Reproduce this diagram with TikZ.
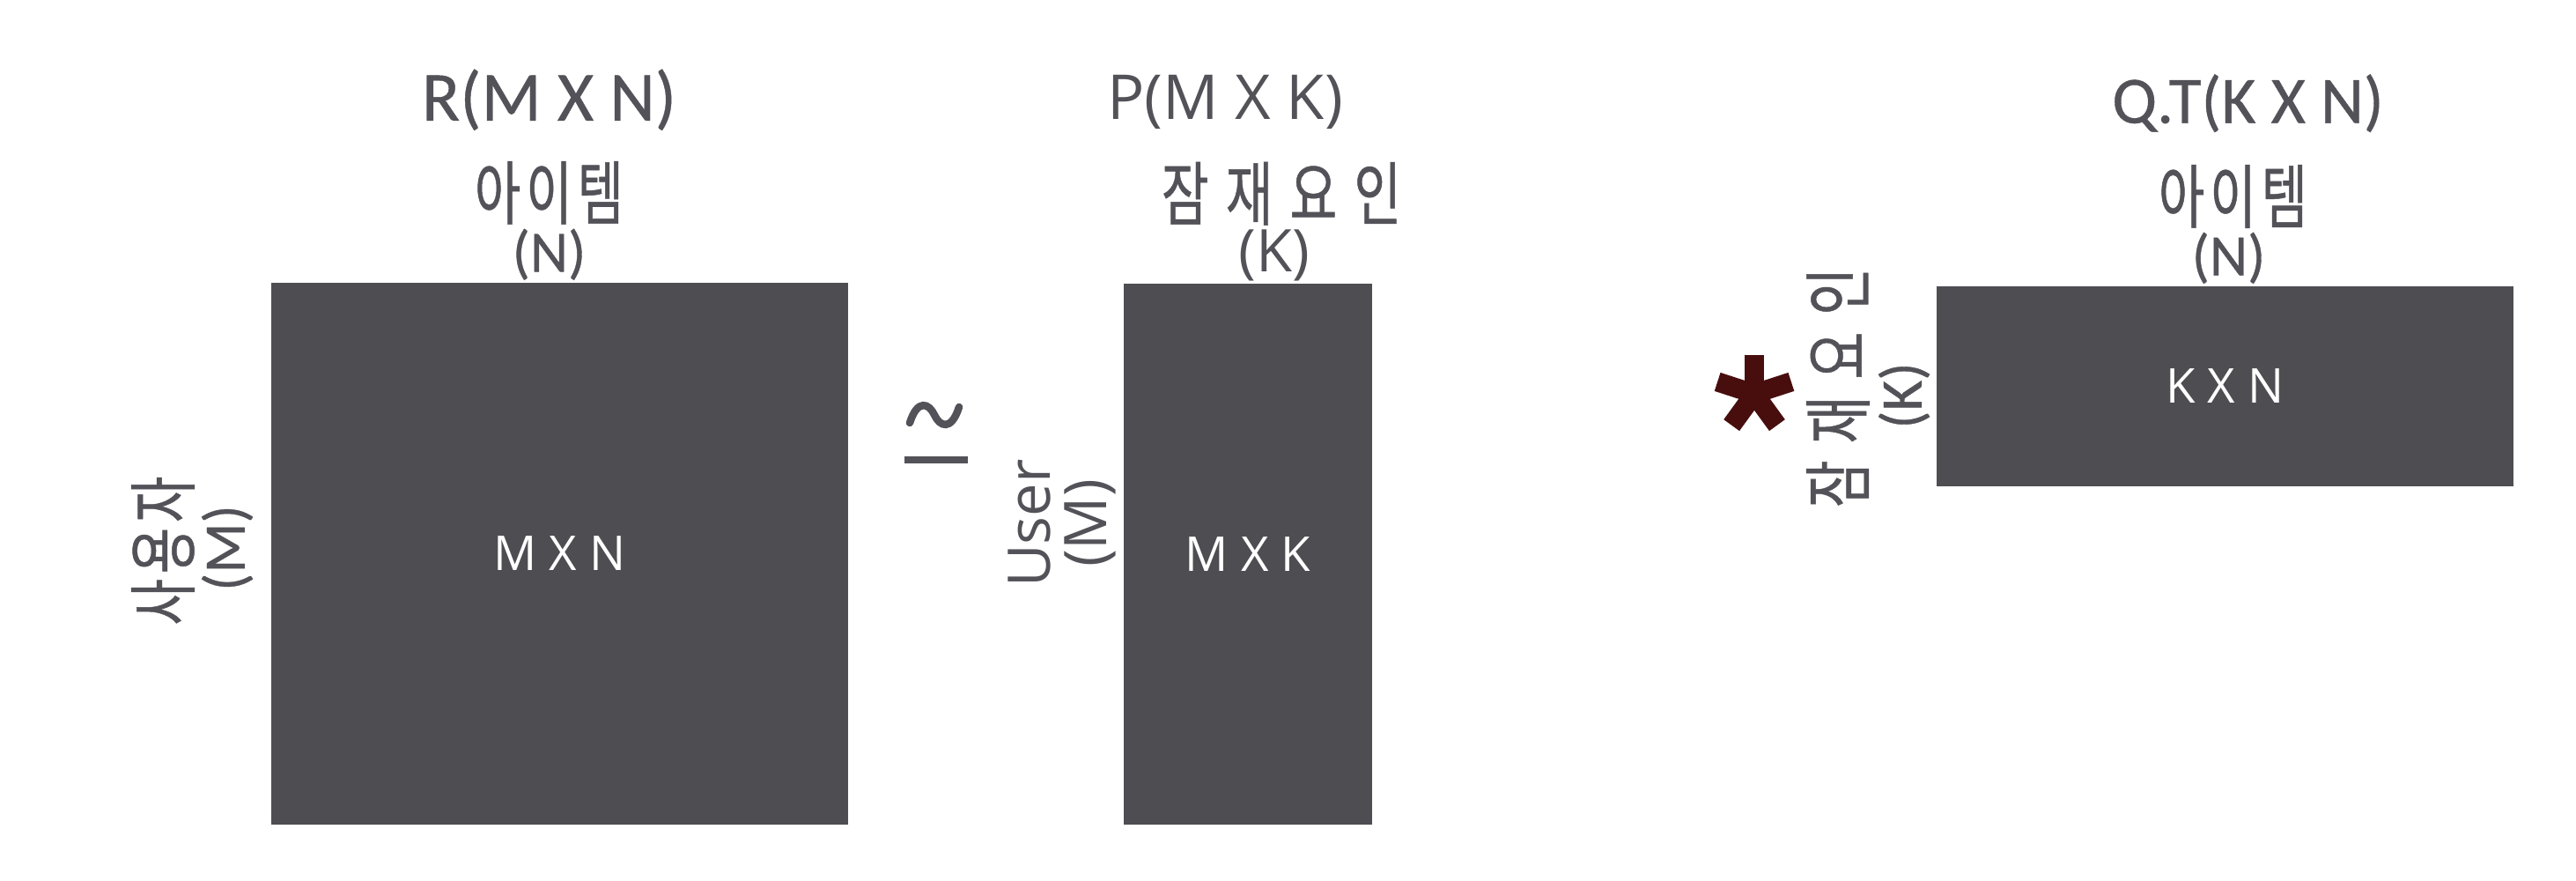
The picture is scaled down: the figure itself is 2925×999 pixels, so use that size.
\documentclass[tikz,border=0pt]{standalone}
\usepackage{fontspec}
\newfontfamily\carlito[FakeBold=0.5]{Carlito}
\newfontfamily\opensans{Open Sans}
\newfontfamily\kr[FakeStretch=0.72,LetterSpace=7.5,FakeBold=0.6]{Noto Sans CJK KR}
\newfontfamily\krwide[FakeStretch=0.74,LetterSpace=24,FakeBold=0.6]{Noto Sans CJK KR}
\usetikzlibrary{positioning}

\definecolor{boxgray}{RGB}{77,77,82}
\definecolor{labelgray}{RGB}{82,82,88}
\definecolor{stardark}{RGB}{72,14,14}

\tikzset{
  matbox/.style={fill=boxgray, text=white, inner sep=0pt,
    font=\opensans\fontsize{15.5}{18}\selectfont},
  dimlabel/.style={text=labelgray, inner sep=0pt,
    font=\carlito\fontsize{19}{22}\selectfont},
  krlabel/.style={text=labelgray, inner sep=0pt,
    font=\kr\fontsize{22.5}{26}\selectfont},
  krwidelabel/.style={text=labelgray, inner sep=0pt,
    font=\krwide\fontsize{22.5}{26}\selectfont},
  titlelabel/.style={text=labelgray, inner sep=0pt,
    font=\carlito\fontsize{22}{26}\selectfont},
  sanslabel/.style={text=labelgray, inner sep=0pt,
    font=\opensans\fontsize{19}{22}\selectfont}
}

\begin{document}
\begin{tikzpicture}[x=0.01cm,y=-0.01cm,line width=0.3mm]
  \useasboundingbox (0,0) rectangle (2925,999);

  % the three matrices
  \node[matbox, minimum width=6.55cm, minimum height=6.15cm] (R) at (635.5,628.5) {M X N};
  \node[matbox, minimum width=2.82cm, minimum height=6.14cm] (P) at (1417,629) {M X K};
  \node[matbox, minimum width=6.55cm, minimum height=2.27cm] (Q) at (2526.5,438.5) {K X N};

  % R
  \node[dimlabel] (Rn) [above=0pt of R.north, xshift=-0.12cm] {(N)};
  \node[krlabel] (Ritem) [above=0.02cm of Rn] {아이템};
  \node[titlelabel, font=\carlito\fontsize{22.7}{26}\selectfont] (Rname) [above=0.32cm of Ritem] {R(M X N)};
  \node[krlabel, rotate=90] (Ruser) at (185,625) {사용자};
  \node[dimlabel, rotate=90] (Rm) at (258,622) {(M)};

  % approx sign
  \coordinate (approx) at (1062,496);
  \draw[labelgray, line width=0.085cm, line cap=round]
    (1033,480) .. controls (1042,452) and (1055,458) .. (1061,471)
    .. controls (1067,484) and (1080,490) .. (1089,462);
  \draw[labelgray, line width=0.08cm] (1027,522) -- (1099,522);

  % P
  \node[sanslabel] (Pk) [above=0pt of P.north, xshift=0.3cm] {(K)};
  \node[krwidelabel] (Pfactor) [above=0.02cm of Pk, xshift=0.08cm] {잠재요인};
  \node[sanslabel, font=\opensans\fontsize{20}{24}\selectfont] (Pname) [above=0.34cm of Pfactor, xshift=-0.64cm] {P(M X K)};
  \node[sanslabel, rotate=90] (Puser) at (1169,594) {User};
  \node[sanslabel, rotate=90] (Pm) at (1238,594) {(M)};

  % star
  \coordinate (star) at (1992,447);
  \foreach \a in {90,162,234,306,378}
    \draw[stardark, line width=0.22cm] (star) -- ++(\a:0.44cm);

  % Q.T
  \node[dimlabel] (Qn) [above=0pt of Q.north, xshift=0.04cm] {(N)};
  \node[krlabel] (Qitem) [above=0.02cm of Qn, xshift=0.05cm] {아이템};
  \node[titlelabel, font=\carlito\fontsize{21.5}{26}\selectfont] (Qname) [above=0.34cm of Qitem, xshift=0.17cm] {Q.T(K X N)};
  \node[krwidelabel, rotate=90] (Qfactor) at (2087,440) {잠재요인};
  \node[dimlabel, rotate=90] (Qk) at (2162,449) {(K)};
\end{tikzpicture}
\end{document}
